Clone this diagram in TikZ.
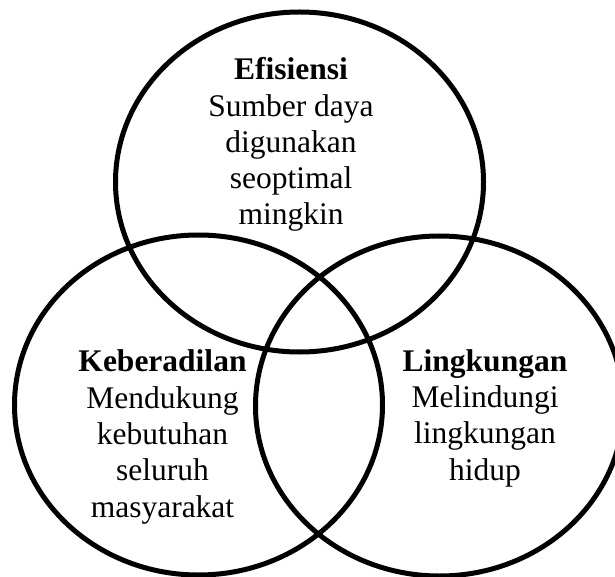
\documentclass[tikz,border=0pt]{standalone}
\usepackage{fontspec}
\setmainfont{Liberation Serif}
\begin{document}
\begin{tikzpicture}[x=1pt,y=-1pt,
  ring/.style={line width=5pt,draw=black},
  label/.style={align=center,inner sep=0pt,anchor=base,
    font=\fontsize{31.5}{36.3}\selectfont}]
  \useasboundingbox (0,0) rectangle (615,577);
  % the three sets
  \coordinate (cTop)   at (299.5,182);
  \coordinate (cLeft)  at (198.5,405);
  \coordinate (cRight) at (439.5,406);
  \draw[ring] (cTop)   ellipse [x radius=184pt, y radius=170pt];
  \draw[ring] (cLeft)  ellipse [x radius=184pt, y radius=170pt];
  \draw[ring] (cRight) ellipse [x radius=184pt, y radius=170pt];
  % captions (anchored at the baseline of their last line)
  \node[label] (efisiensi) at (291,225)
    {\textbf{Efisiensi}\\Sumber daya\\digunakan\\seoptimal\\mingkin};
  \node[label] (keadilan) at (162.5,517)
    {\textbf{Keberadilan}\\Mendukung\\kebutuhan\\seluruh\\masyarakat};
  \node[label] (lingkungan) at (485,480)
    {\textbf{Lingkungan}\\Melindungi\\lingkungan\\hidup};
\end{tikzpicture}
\end{document}
